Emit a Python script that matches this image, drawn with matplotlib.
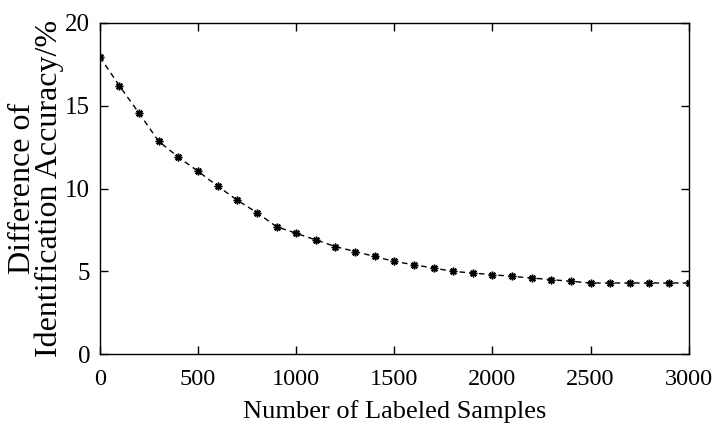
import matplotlib
matplotlib.use("Agg")
import matplotlib.pyplot as plt

samples = [0, 100, 200, 300, 400, 500, 600, 700, 800, 900, 1000, 1100, 1200, 1300, 1400,
           1500, 1600, 1700, 1800, 1900, 2000, 2100, 2200, 2300, 2400, 2500, 2600, 2700,
           2800, 2900, 3000]
diff_acc = [17.95, 16.2, 14.55, 12.85, 11.9, 11.05, 10.15, 9.3, 8.55, 7.7, 7.3, 6.9, 6.5,
            6.2, 5.9, 5.6, 5.4, 5.2, 5.0, 4.9, 4.8, 4.7, 4.6, 4.5, 4.4, 4.3, 4.3, 4.3,
            4.3, 4.3, 4.3]
xticks = [0, 500, 1000, 1500, 2000, 2500, 3000]
yticks = [0, 5, 10, 15, 20]

plt.rcParams['font.family'] = ['Liberation Serif', 'DejaVu Serif']

fig = plt.figure(figsize=(7.13, 4.33), dpi=100)
ax = fig.add_axes([0.140, 0.182, 0.826, 0.765])
ax.plot(samples, diff_acc, linestyle='--', color='black', linewidth=1.0,
        marker=(8, 2, 0), markersize=5.5, markeredgewidth=1.1,
        markerfacecolor='black', markeredgecolor='black', dashes=(4, 3))
ax.set_xlim(0, 3000)
ax.set_ylim(0, 20)
ax.set_xticks(xticks)
ax.set_yticks(yticks)
ax.tick_params(direction='in', top=True, right=True, labelsize=18, length=6, width=1,
               pad=7)
ax.tick_params(axis='x', labelsize=17.5, pad=11)
for s in ax.spines.values():
    s.set_linewidth(1.0)
ax.set_xlabel('Number of Labeled Samples', fontsize=19, labelpad=7)
ax.set_ylabel('Difference of\nIdentification Accuracy/%', fontsize=23,
              linespacing=0.9)
ax.yaxis.set_label_coords(-0.06, 0.5)
fig.savefig('out.png', dpi=100)
